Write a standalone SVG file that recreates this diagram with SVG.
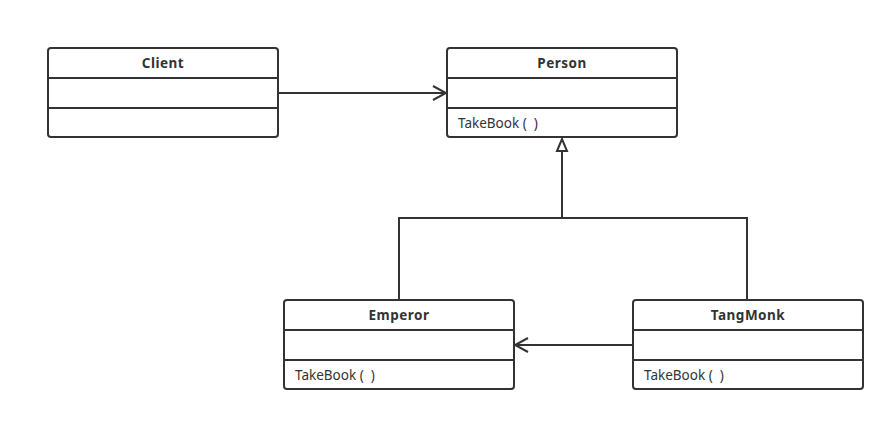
<svg xmlns="http://www.w3.org/2000/svg" width="895" height="422" viewBox="0 0 895 422">
<defs>
<style>
.box{fill:#fff;stroke:#333;stroke-width:2}
.div{stroke:#333;stroke-width:2;fill:none}
.title{font-family:"Noto Sans","Open Sans",sans-serif;font-size:13.5px;font-weight:bold;fill:#333;text-anchor:middle;letter-spacing:0.5px}
.op{font-family:"Noto Sans","Open Sans",sans-serif;font-size:13.5px;fill:#333}
.edge{stroke:#333;stroke-width:2;fill:none}
</style>
<marker id="open" markerWidth="16" markerHeight="16" refX="14" refY="8" orient="auto" markerUnits="userSpaceOnUse">
<path d="M1,1 L14,8 L1,15" fill="none" stroke="#333" stroke-width="2"/>
</marker>
<marker id="tri" markerWidth="14" markerHeight="16" refX="13" refY="7" orient="auto" markerUnits="userSpaceOnUse">
<path d="M1,2 L13,7 L1,12 Z" fill="#fff" stroke="#333" stroke-width="2"/>
</marker>
</defs>
<rect width="895" height="422" fill="#fff"/>
<g id="connectors">
<path class="edge" d="M278,93 L446,93" marker-end="url(#open)"/>
<path class="edge" d="M399,300 L399,218 L747,218 L747,300"/>
<path class="edge" d="M562,218 L562,139" marker-end="url(#tri)"/>
<path class="edge" d="M633,345 L515,345" marker-end="url(#open)"/>
</g>
<g id="Client">
<rect class="box" x="48" y="48" width="230" height="89" rx="3"/>
<path class="div" d="M48,78 H278 M48,108 H278"/>
<text class="title" x="163" y="68">Client</text>
</g>
<g id="Person">
<rect class="box" x="447" y="48" width="230" height="89" rx="3"/>
<path class="div" d="M447,78 H677 M447,108 H677"/>
<text class="title" x="562" y="68">Person</text>
<text class="op" x="458" y="128">TakeBook (&#160;&#160;)</text>
</g>
<g id="Emperor">
<rect class="box" x="284" y="300" width="230" height="89" rx="3"/>
<path class="div" d="M284,330 H514 M284,360 H514"/>
<text class="title" x="399" y="320">Emperor</text>
<text class="op" x="295" y="380">TakeBook (&#160;&#160;)</text>
</g>
<g id="TangMonk">
<rect class="box" x="633" y="300" width="230" height="89" rx="3"/>
<path class="div" d="M633,330 H863 M633,360 H863"/>
<text class="title" x="748" y="320">TangMonk</text>
<text class="op" x="644" y="380">TakeBook (&#160;&#160;)</text>
</g>
</svg>
